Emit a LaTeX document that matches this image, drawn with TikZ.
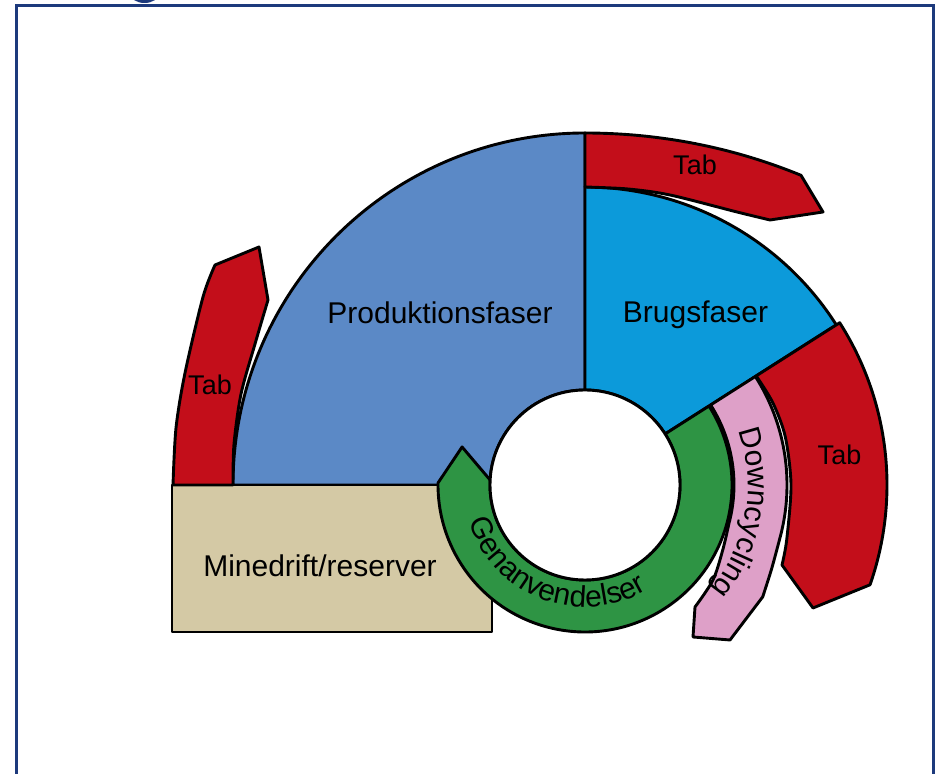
\documentclass[tikz,border=0pt]{standalone}
\usepackage{fontspec}
\setmainfont{Liberation Sans}
\usetikzlibrary{calc,decorations.text}
\definecolor{prodblue}{RGB}{91,137,198}
\definecolor{brugblue}{RGB}{12,154,218}
\definecolor{tabred}{RGB}{195,14,26}
\definecolor{genbrug}{RGB}{46,148,68}
\definecolor{downpink}{RGB}{222,160,200}
\definecolor{minetan}{RGB}{212,201,165}
\definecolor{framenavy}{RGB}{29,58,124}
\newcommand{\curvefont}{\fontsize{15}{18}\selectfont}
\begin{document}
\begin{tikzpicture}[x=0.5pt,y=0.5pt,
  piece/.style={draw=black, line width=1.45pt, line join=round},
  lbl/.style={anchor=base, inner sep=0pt, text=black},
  big/.style={font=\fontsize{15}{18}\selectfont},
  small/.style={font=\fontsize{13.5}{16}\selectfont}]
\useasboundingbox (0,0) rectangle (936,774);
\clip (0,0) rectangle (936,774);
\coordinate (C) at (585,289);
% frame
\draw[framenavy, line width=1.5pt] (16,-10) -- (16,768) -- (933,768) -- (933,-10);
\fill[framenavy] (144.5,780) ellipse[x radius=14, y radius=9];
% Produktionsfaser
\path[piece, fill=prodblue] ($(C)+(90:352)$) arc[start angle=90, end angle=180, radius=352]
  -- ($(C)+(180:95)$) arc[start angle=180, end angle=90, radius=95] -- cycle;
% Brugsfaser
\path[piece, fill=brugblue] ($(C)+(32.5:298)$) arc[start angle=32.5, end angle=90, radius=298]
  -- ($(C)+(90:95)$) arc[start angle=90, end angle=32.5, radius=95] -- cycle;
% Minedrift box
\path[piece, fill=minetan] (172,142) rectangle (492,289);
% left Tab
\path[piece, fill=tabred] (233,289) -- (173,289)
  -- plot[smooth] coordinates {(173,289) (176,346) (185,401) (203,477) (215,509)}
  -- (259,527) -- (268,474)
  -- plot[smooth] coordinates {(268,474) (255,430) (241,380) (234,330) (233,289)} -- cycle;
% top Tab
\path[piece, fill=tabred] (585,587) -- (585,641)
  -- plot[domain=90:55.1, samples=40, variable=\t] ({585+(352+0.021*(90-\t)^2)*cos(\t)}, {289+(352+0.021*(90-\t)^2)*sin(\t)})
  -- (823,562) -- (770,554)
  -- plot[smooth] coordinates {(770,554) (737,562) (670,579) (628,585) (585,587)} -- cycle;
% right Tab
\path[piece, fill=tabred] (756.2,398.1) -- ($(C)+(32.5:302)$) arc[start angle=32.5, end angle=-19.3, radius=302]
  -- (813,166) -- (782,209)
  -- plot[smooth] coordinates {(782,209) (786.7,234.2) (791,289) (785.3,337.1) (772.9,371.1) (756.2,398.1)} -- cycle;
% Downcycling band
\path[piece, fill=downpink] ($(C)+(32.5:149)$) -- ($(C)+(32.5:202)$) arc[start angle=32.5, end angle=-15, radius=202]
  -- plot[smooth] coordinates {(780.1,236.7) (771.8,205.8) (762.7,177.1)}
  -- (730,134) -- (693,137) -- (695,167)
  -- plot[smooth] coordinates {(695,167) (713,194) (723,225) (728.9,250.4)}
  arc[start angle=-15, end angle=32.5, radius=149] -- cycle;
% Genanvendelser ring with arrow
\path[piece, fill=genbrug] ($(C)+(32.5:147)$) arc[start angle=32.5, end angle=-180.8, radius=147]
  -- ($(C)+(162.8:128.7)$) -- ($(C)+(177:95)$) arc[start angle=-183, end angle=32.5, radius=95] -- cycle;
% centre hole
\path[piece, fill=white] (C) circle[radius=95];
% labels
\node[lbl, big] (prod) at (440,450) {Produktionsfaser};
\node[lbl, big] (brug) at (695.5,451) {Brugsfaser};
\node[lbl, big] (mine) at (320,197) {Minedrift/reserver};
\node[lbl, small] (tabtop) at (695,599) {Tab};
\node[lbl, small] (tableft) at (210,379) {Tab};
\node[lbl, small] (tabright) at (839.5,309) {Tab};
\path[decorate, decoration={text along path, text align=center, text={|\curvefont|Genanvendelser}}]
  ($(C)+(194:122)$) arc[start angle=194, end angle=304.4, radius=122];
\path[decorate, decoration={text along path, text align=center, text={|\curvefont|Downcycling}}]
  ($(C)+(22:163)$) arc[start angle=22, end angle=-42, radius=163];
\end{tikzpicture}
\end{document}
